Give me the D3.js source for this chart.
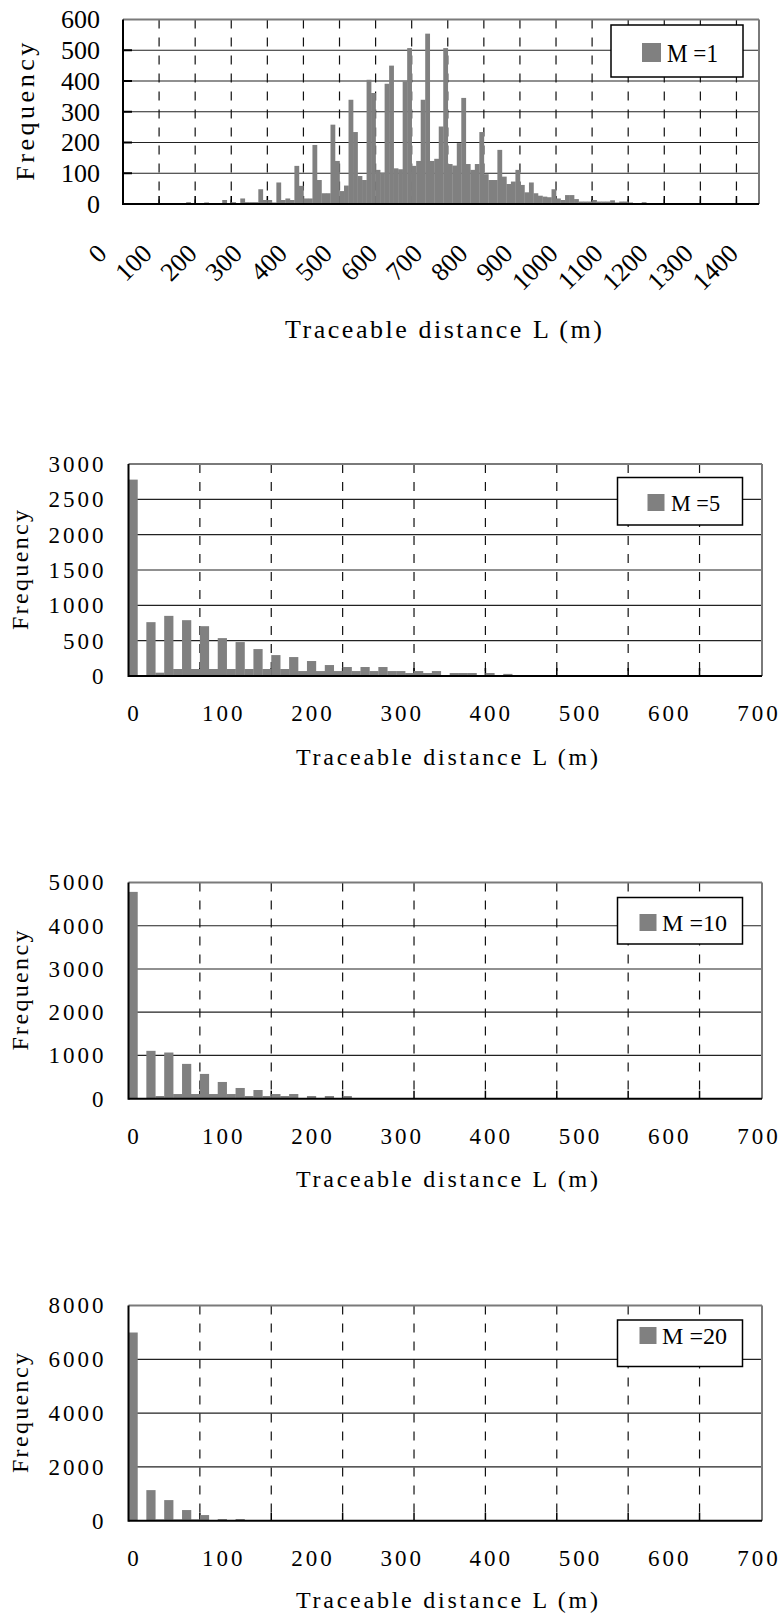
<!doctype html>
<html lang="en">
<head>
  <meta charset="utf-8">
  <script src="https://d3js.org/d3.v7.min.js"></script>
  <style>
    body { margin: 0; background: #fff; }
    text { font-family: "Liberation Serif", "DejaVu Serif", serif; fill: #000; }
  </style>
</head>
<body>
  <script>
    // frequency per 10 m bin of traceable distance L (index 0 = 0 m)
    var freqM1 = [
      0, 0, 0, 0, 0, 0, 0, 0, 0, 0,
      0, 0, 0, 0, 6, 0, 0, 0, 5, 0,
      0, 0, 13, 2, 6, 2, 18, 6, 6, 6,
      48, 13, 13, 5, 70, 13, 18, 13, 124, 59,
      18, 18, 192, 78, 35, 35, 258, 140, 42, 60,
      339, 234, 91, 78, 404, 361, 111, 102, 391, 450,
      116, 113, 399, 507, 124, 140, 339, 554, 140, 147,
      252, 507, 130, 125, 198, 345, 130, 111, 130, 234,
      97, 78, 78, 176, 89, 65, 73, 111, 62, 38,
      70, 35, 27, 24, 22, 48, 18, 13, 29, 29,
      16, 8, 8, 8, 13, 8, 8, 8, 12, 5,
      8, 8, 5, 0, 3, 6, 0, 0, 0, 0,
      0, 0, 0, 0, 0, 0, 0, 0, 0, 0,
      0, 0, 0, 0, 0, 0, 0, 0, 0, 0,
      0
    ];
    var freqM5 = [
      2779, 0, 762, 47, 851, 99, 790, 99, 705, 99,
      536, 99, 480, 99, 381, 99, 296, 99, 268, 70,
      212, 70, 155, 70, 127, 70, 127, 70, 127, 70,
      70, 42, 70, 42, 70, 0, 42, 42, 42, 0,
      42, 0, 30, 0, 0, 0, 0, 0, 0, 0,
      0, 0, 0, 0, 0, 0, 0, 0, 0, 0,
      0, 0, 0, 0, 0, 0, 0, 0, 0, 0,
      0
    ];
    var freqM10 = [
      4783, 0, 1107, 62, 1068, 108, 805, 108, 573, 108,
      387, 108, 248, 62, 201, 62, 108, 62, 108, 0,
      62, 0, 62, 0, 62, 0, 0, 0, 0, 0,
      0, 0, 0, 0, 0, 0, 0, 0, 0, 0,
      0, 0, 0, 0, 0, 0, 0, 0, 0, 0,
      0, 0, 0, 0, 0, 0, 0, 0, 0, 0,
      0, 0, 0, 0, 0, 0, 0, 0, 0, 0,
      0
    ];
    var freqM20 = [
      6996, 0, 1137, 50, 766, 50, 396, 50, 210, 25,
      62, 0, 62, 0, 0, 0, 0, 0, 0, 0,
      0, 0, 0, 0, 0, 0, 0, 0, 0, 0,
      0, 0, 0, 0, 0, 0, 0, 0, 0, 0,
      0, 0, 0, 0, 0, 0, 0, 0, 0, 0,
      0, 0, 0, 0, 0, 0, 0, 0, 0, 0,
      0, 0, 0, 0, 0, 0, 0, 0, 0, 0,
      0
    ];

    var binWidth = 10;   // metres per category
    var xLabelsLong = [0, 100, 200, 300, 400, 500, 600, 700, 800, 900, 1000, 1100, 1200, 1300, 1400];
    var xLabelsShort = [0, 100, 200, 300, 400, 500, 600, 700];
    var yTicksM1 = [0, 100, 200, 300, 400, 500, 600];
    var yTicksM5 = [0, 500, 1000, 1500, 2000, 2500, 3000];
    var yTicksM10 = [0, 1000, 2000, 3000, 4000, 5000];
    var yTicksM20 = [0, 2000, 4000, 6000, 8000];
    var seriesNames = ["M =1", "M =5", "M =10", "M =20"];

    var xTitle = "Traceable distance L (m)";
    var yTitle = "Frequency";

    var svg = d3.select("body").append("svg")
        .attr("width", 783)
        .attr("height", 1615)
        .style("background", "#fff");

    // layout of each panel (pixels)
    var panels = [
      { values: freqM1, xLabels: xLabelsLong, yTicks: yTicksM1, name: seriesNames[0],
        left: 123, right: 759, top: 19.5, bottom: 204, big: true,
        tickFont: 26, ySpace: 0, yLabelRight: 100,
        titleY: 338, titleX: 285, titleLen: 317, titleFont: 26,
        freqX: 34, freqLen: 138, freqFont: 26,
        legend: { x: 611, y: 25, w: 132, h: 52, sw: 642, sy: 43, ss: 19, tx: 667, ty: 62, tl: 51, font: 26 } },
      { values: freqM5, xLabels: xLabelsShort, yTicks: yTicksM5, name: seriesNames[1],
        left: 128.5, right: 762, top: 464, bottom: 676, big: false,
        tickFont: 23, ySpace: 3, yLabelRight: 103.5,
        titleY: 765, titleX: 296, titleLen: 302, titleFont: 24,
        freqX: 28, freqLen: 120, freqFont: 24,
        legend: { x: 617.5, y: 477.5, w: 125, h: 47.5, sw: 647.5, sy: 494, ss: 17, tx: 671, ty: 511, tl: 49, font: 24 } },
      { values: freqM10, xLabels: xLabelsShort, yTicks: yTicksM10, name: seriesNames[2],
        left: 128.5, right: 762, top: 882.5, bottom: 1098.7, big: false,
        tickFont: 23, ySpace: 3, yLabelRight: 103.5,
        titleY: 1187, titleX: 296, titleLen: 302, titleFont: 24,
        freqX: 28, freqLen: 120, freqFont: 24,
        legend: { x: 617.5, y: 897.5, w: 125, h: 46.5, sw: 639.5, sy: 914, ss: 17, tx: 662, ty: 930.5, tl: 65, font: 24 } },
      { values: freqM20, xLabels: xLabelsShort, yTicks: yTicksM20, name: seriesNames[3],
        left: 128.5, right: 762, top: 1305.5, bottom: 1520.7, big: false,
        tickFont: 23, ySpace: 3, yLabelRight: 103.5,
        titleY: 1608, titleX: 296, titleLen: 302, titleFont: 24,
        freqX: 28, freqLen: 120, freqFont: 24,
        legend: { x: 617.5, y: 1320, w: 125, h: 46.5, sw: 639.5, sy: 1327, ss: 17, tx: 662, ty: 1344, tl: 65, font: 24 } }
    ];

    panels.forEach(function(p) {
      var g = svg.append("g");

      var x = d3.scaleBand()
          .domain(d3.range(p.values.length))
          .range([p.left, p.right])
          .padding(0);

      var y = d3.scaleLinear()
          .domain([0, d3.max(p.yTicks)])
          .range([p.bottom, p.top]);

      // horizontal gridlines
      g.selectAll(".hgrid")
          .data(p.yTicks.slice(1, -1))
        .enter().append("line")
          .attr("x1", p.left).attr("x2", p.right)
          .attr("y1", function(d) { return y(d); })
          .attr("y2", function(d) { return y(d); })
          .style("stroke", "#222")
          .style("stroke-width", 1.2);

      // dashed verticals every 8 categories (Excel tick interval)
      var vIdx = d3.range(8, p.values.length, 8);
      g.selectAll(".vgrid")
          .data(vIdx)
        .enter().append("line")
          .attr("x1", function(d) { return x(d); })
          .attr("x2", function(d) { return x(d); })
          .attr("y1", p.top).attr("y2", p.bottom)
          .style("stroke", "#111")
          .style("stroke-width", 1.2)
          .style("stroke-dasharray", "9,9");

      // bottom tick marks
      g.selectAll(".btick")
          .data(vIdx)
        .enter().append("line")
          .attr("x1", function(d) { return x(d); })
          .attr("x2", function(d) { return x(d); })
          .attr("y1", p.bottom).attr("y2", p.bottom - 8)
          .style("stroke", "#000")
          .style("stroke-width", 1.5);

      if (p.big) {
        g.selectAll(".ltick")
            .data(p.yTicks.slice(1, -1))
          .enter().append("line")
            .attr("x1", p.left).attr("x2", p.left + 9)
            .attr("y1", function(d) { return y(d); })
            .attr("y2", function(d) { return y(d); })
            .style("stroke", "#000")
            .style("stroke-width", 2);
      }

      // bars
      g.selectAll(".bar")
          .data(p.values)
        .enter().append("rect")
          .attr("x", function(d, i) { return x(i); })
          .attr("width", x.bandwidth() + 0.3)
          .attr("y", function(d) { return y(d); })
          .attr("height", function(d) { return p.bottom - y(d); })
          .style("fill", "#808080");

      // frame: grey top/right, black axes left/bottom
      g.append("line").attr("x1", p.left).attr("x2", p.right).attr("y1", p.top).attr("y2", p.top)
          .style("stroke", "#7a7a7a").style("stroke-width", 2);
      g.append("line").attr("x1", p.right).attr("x2", p.right).attr("y1", p.top).attr("y2", p.bottom)
          .style("stroke", "#7a7a7a").style("stroke-width", 2);
      g.append("line").attr("x1", p.left).attr("x2", p.left).attr("y1", p.top).attr("y2", p.bottom + 1)
          .style("stroke", "#000").style("stroke-width", 2);
      g.append("line").attr("x1", p.left).attr("x2", p.right).attr("y1", p.bottom).attr("y2", p.bottom)
          .style("stroke", "#000").style("stroke-width", 2);

      // y axis labels
      var yAxis = d3.axisLeft(y)
          .tickValues(p.yTicks)
          .tickFormat(d3.format("d"))
          .tickSize(0)
          .tickPadding(p.left - p.yLabelRight - p.ySpace);
      var ya = g.append("g")
          .attr("transform", "translate(" + p.left + ",0)")
          .call(yAxis);
      ya.select(".domain").remove();
      ya.selectAll("text")
          .attr("fill", "#000")
          .style("font-family", "'Liberation Serif', serif")
          .style("font-size", p.tickFont + "px")
          .style("letter-spacing", p.ySpace + "px");

      // x axis labels
      var xAxis = d3.axisBottom(x)
          .tickValues(p.xLabels.map(function(v) { return v / binWidth; }))
          .tickFormat(function(i) { return i * binWidth; })
          .tickSize(0)
          .tickPadding(29);
      var xa = g.append("g")
          .attr("transform", "translate(0," + p.bottom + ")")
          .call(xAxis);
      xa.select(".domain").remove();
      xa.selectAll("text")
          .attr("fill", "#000")
          .style("font-family", "'Liberation Serif', serif")
          .style("font-size", p.tickFont + "px")
          .style("letter-spacing", p.ySpace + "px");
      if (p.big) {
        xa.selectAll("text")
            .attr("x", 0).attr("y", 0).attr("dy", 0)
            .attr("text-anchor", "end")
            .attr("transform", "translate(-17,51) rotate(-45)");
      } else {
        xa.selectAll("text").attr("dx", p.ySpace / 2);
      }

      // axis titles
      g.append("text")
          .attr("x", p.titleX)
          .attr("y", p.titleY)
          .attr("textLength", p.titleLen)
          .attr("lengthAdjust", "spacing")
          .style("font-size", p.titleFont + "px")
          .text(xTitle);

      g.append("text")
          .attr("transform", "translate(" + p.freqX + "," + ((p.top + p.bottom) / 2 + p.freqLen / 2) + ") rotate(-90)")
          .attr("textLength", p.freqLen)
          .attr("lengthAdjust", "spacing")
          .style("font-size", p.freqFont + "px")
          .text(yTitle);

      // legend
      var L = p.legend;
      g.append("rect")
          .attr("x", L.x).attr("y", L.y)
          .attr("width", L.w).attr("height", L.h)
          .style("fill", "#fff")
          .style("stroke", "#000")
          .style("stroke-width", 1.5);
      g.append("rect")
          .attr("x", L.sw).attr("y", L.sy)
          .attr("width", L.ss).attr("height", L.ss)
          .style("fill", "#808080");
      g.append("text")
          .attr("x", L.tx).attr("y", L.ty)
          .attr("textLength", L.tl)
          .attr("lengthAdjust", "spacingAndGlyphs")
          .style("font-size", L.font + "px")
          .text(p.name);
    });
  </script>
</body>
</html>
